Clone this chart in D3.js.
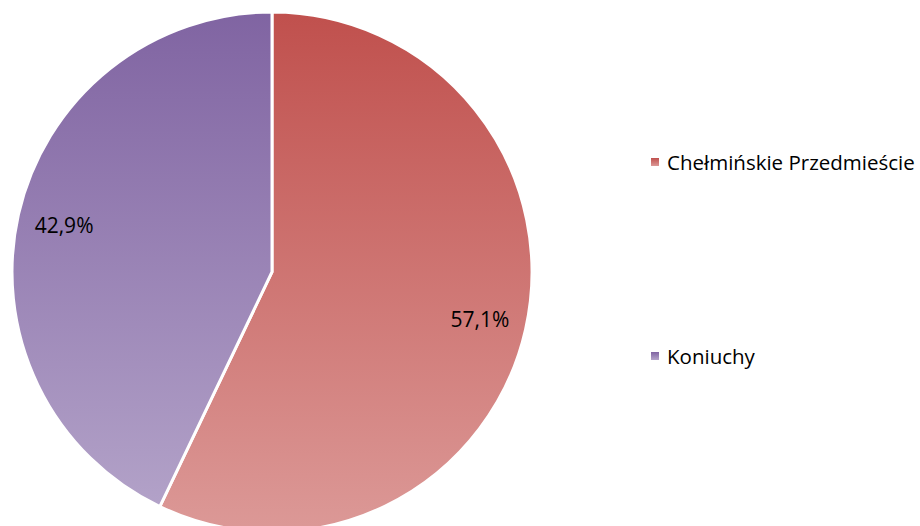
<!DOCTYPE html>
<html>
<head>
<meta charset="utf-8">
<script src="https://cdn.jsdelivr.net/npm/d3@7"></script>
<style>
  body { margin: 0; background: #fff; }
  text { font-family: "Open Sans", "Liberation Sans", sans-serif; }
</style>
</head>
<body>
<div id="chart"></div>
<script>
const width = 920;
const height = 526;

const districts = ["Chełmińskie Przedmieście", "Koniuchy"];
const shares = [57.1, 42.9];
const topColors = ["#c0504d", "#8064a2"];
const bottomColors = ["#dc9997", "#b5a5ca"];

const cx = 272, cy = 272, radius = 260;

let svg = d3.select("#chart")
  .append("svg")
  .attr("width", width)
  .attr("height", height)
  .attr("viewBox", [0, 0, width, height]);

let defs = svg.append("defs");
districts.forEach((d, i) => {
  let g = defs.append("linearGradient")
    .attr("id", "grad" + i)
    .attr("gradientUnits", "userSpaceOnUse")
    .attr("x1", 0).attr("y1", -radius)
    .attr("x2", 0).attr("y2", radius);
  g.append("stop").attr("offset", "0%").attr("stop-color", topColors[i]);
  g.append("stop").attr("offset", "100%").attr("stop-color", bottomColors[i]);

  let lg = defs.append("linearGradient")
    .attr("id", "lg" + i)
    .attr("x1", 0).attr("y1", 0).attr("x2", 0).attr("y2", 1);
  lg.append("stop").attr("offset", "0%").attr("stop-color", topColors[i]);
  lg.append("stop").attr("offset", "100%").attr("stop-color", bottomColors[i]);
});

const pie = d3.pie().sort(null).value(d => d);
const arcs = pie(shares);
const arc = d3.arc().innerRadius(0).outerRadius(radius);

let g = svg.append("g").attr("transform", `translate(${cx},${cy})`);

g.selectAll("path")
  .data(arcs)
  .join("path")
    .attr("d", arc)
    .attr("fill", (d, i) => `url(#grad${i})`)
    .attr("stroke", "white")
    .attr("stroke-width", 3)
    .attr("stroke-linejoin", "miter");

const labelArc = d3.arc().innerRadius(radius * 0.82).outerRadius(radius * 0.82);
g.selectAll("text.lbl")
  .data(arcs)
  .join("text")
    .attr("class", "lbl")
    .attr("transform", d => `translate(${labelArc.centroid(d)})`)
    .attr("text-anchor", "middle")
    .attr("dominant-baseline", "central")
    .attr("font-size", 21)
    .attr("fill", "#000")
    .text(d => d.value.toFixed(1).replace(".", ",") + "%");

const legendY = d3.scalePoint().domain(districts).range([162, 356]);

let legend = svg.append("g");
legend.selectAll("rect")
  .data(districts)
  .join("rect")
    .attr("x", 651)
    .attr("y", d => legendY(d) - 4)
    .attr("width", 8)
    .attr("height", 8)
    .attr("fill", (d, i) => `url(#lg${i})`);

legend.selectAll("text")
  .data(districts)
  .join("text")
    .attr("x", 667)
    .attr("y", d => legendY(d))
    .attr("dominant-baseline", "central")
    .attr("font-size", 20.5)
    .attr("fill", "#000")
    .text(d => d);
</script>
</body>
</html>
